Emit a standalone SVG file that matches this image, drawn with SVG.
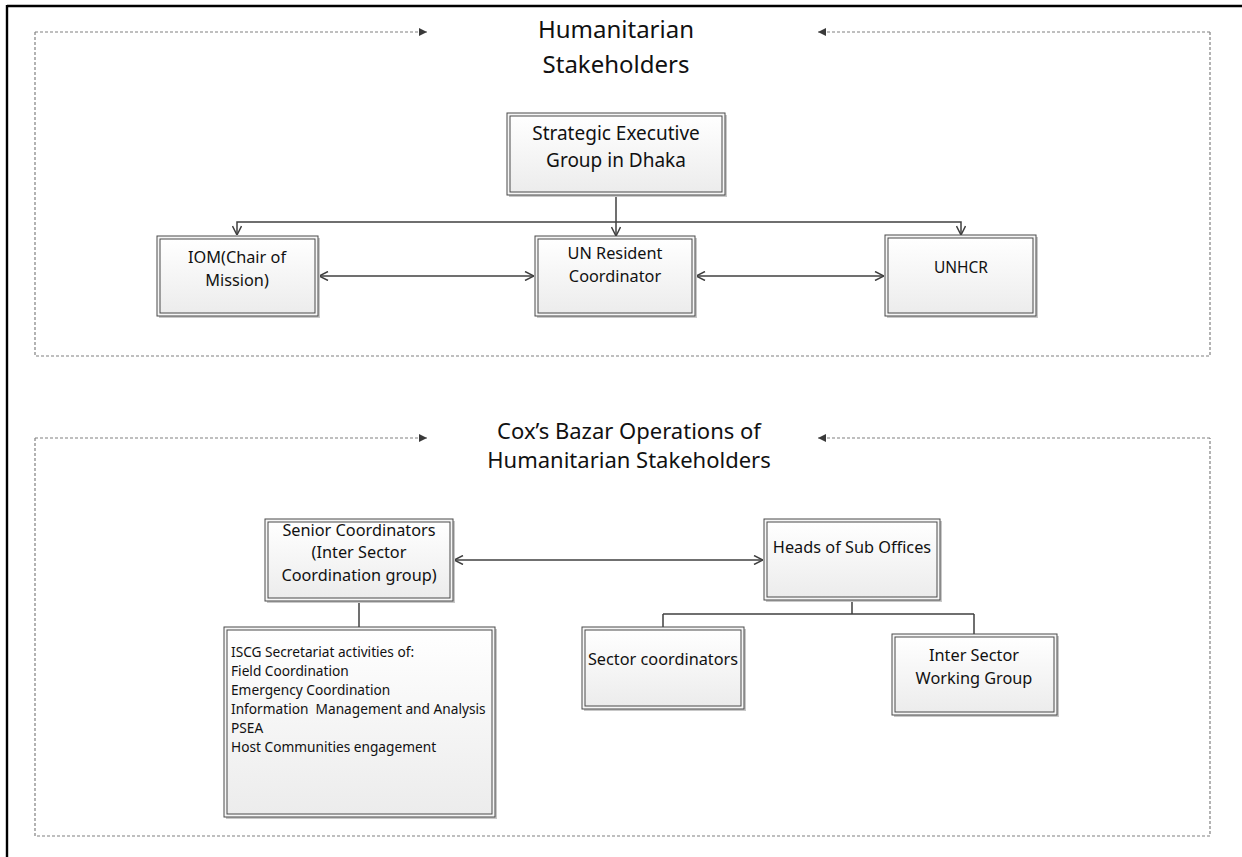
<svg xmlns="http://www.w3.org/2000/svg" width="1242" height="857" viewBox="0 0 1242 857">
<style>
  text { font-family: "Noto Sans", "Open Sans", "Liberation Sans", sans-serif; fill: #111; }
  .title { font-size: 24px; text-anchor: middle; }
  .title2 { font-size: 22px; text-anchor: middle; }
  .big { font-size: 19px; text-anchor: middle; }
  .lbl { font-size: 16.3px; text-anchor: middle; }
  .small { font-size: 13.7px; }
  .shadow { fill: #c8c8c8; }
  .outer { fill: #f6f6f6; stroke: #4a4a4a; stroke-width: 1; }
  .inner { fill: url(#boxfill); stroke: #4a4a4a; stroke-width: 1; }
  .frame { fill: none; stroke: #808080; stroke-width: 1.2; stroke-dasharray: 3 2; }
  .conn { fill: none; stroke: #404040; stroke-width: 1.5; }
  .border { stroke: #000; stroke-width: 2.4; fill: none; }
</style>
<defs>
  <linearGradient id="boxfill" x1="0" y1="0" x2="0" y2="1">
    <stop offset="0" stop-color="#ffffff"/>
    <stop offset="1" stop-color="#ececec"/>
  </linearGradient>
  <marker id="open" viewBox="0 0 10 10" refX="10" refY="5" markerWidth="10" markerHeight="10" markerUnits="userSpaceOnUse" orient="auto-start-reverse">
    <path d="M1,0.5 L10,5 L1,9.5" fill="none" stroke="#404040" stroke-width="1.5"/>
  </marker>
  <marker id="tri" viewBox="0 0 10 10" refX="10" refY="5" markerWidth="10" markerHeight="8" markerUnits="userSpaceOnUse" orient="auto">
    <path d="M0,0 L10,5 L0,10 Z" fill="#3a3a3a"/>
  </marker>
</defs>

<g id="page-border">
  <line class="border" x1="7" y1="6" x2="1242" y2="6"/>
  <line class="border" x1="7" y1="5" x2="7" y2="857"/>
</g>

<g id="frames">
  <path class="frame" d="M35,32 H427" marker-end="url(#tri)"/>
  <path class="frame" d="M1210,32 H818" marker-end="url(#tri)"/>
  <path class="frame" d="M35,32 V356 H1210 V32"/>
  <path class="frame" d="M35,438 H427" marker-end="url(#tri)"/>
  <path class="frame" d="M1210,438 H818" marker-end="url(#tri)"/>
  <path class="frame" d="M35,438 V836 H1210 V438"/>
</g>

<g id="titles">
  <text class="title" x="616" y="38">Humanitarian</text>
  <text class="title" x="616" y="73">Stakeholders</text>
  <text class="title2" x="629" y="439">Cox’s Bazar Operations of</text>
  <text class="title2" x="629" y="468">Humanitarian Stakeholders</text>
</g>

<g id="connectors">
  <path class="conn" d="M616,195 V222"/>
  <path class="conn" d="M616,222 H237 V235" marker-end="url(#open)"/>
  <path class="conn" d="M616,222 H961 V235" marker-end="url(#open)"/>
  <path class="conn" d="M616,222 V236" marker-end="url(#open)"/>
  <path class="conn" d="M319,276 H534" marker-start="url(#open)" marker-end="url(#open)"/>
  <path class="conn" d="M696,276 H884" marker-start="url(#open)" marker-end="url(#open)"/>
  <path class="conn" d="M454,560 H763" marker-start="url(#open)" marker-end="url(#open)"/>
  <path class="conn" d="M359,601 V627"/>
  <path class="conn" d="M852,600 V614 M663,614 H974 M663,614 V627 M974,614 V634"/>
</g>

<g id="node-seg">
  <rect class="shadow" x="509" y="115" width="218" height="82"/>
  <rect class="outer" x="507" y="113" width="218" height="82"/>
  <rect class="inner" x="510" y="116" width="212" height="76"/>
  <text class="big" x="616" y="140">Strategic Executive</text>
  <text class="big" x="616" y="167">Group in Dhaka</text>
</g>

<g id="node-iom">
  <rect class="shadow" x="159" y="238" width="161" height="80"/>
  <rect class="outer" x="157" y="236" width="161" height="80"/>
  <rect class="inner" x="160" y="239" width="155" height="74"/>
  <text class="lbl" x="237" y="263">IOM(Chair of</text>
  <text class="lbl" x="237" y="286">Mission)</text>
</g>

<g id="node-unrc">
  <rect class="shadow" x="537" y="238" width="160" height="80"/>
  <rect class="outer" x="535" y="236" width="160" height="80"/>
  <rect class="inner" x="538" y="239" width="154" height="74"/>
  <text class="lbl" x="615" y="259">UN Resident</text>
  <text class="lbl" x="615" y="282">Coordinator</text>
</g>

<g id="node-unhcr">
  <rect class="shadow" x="887" y="237" width="151" height="81"/>
  <rect class="outer" x="885" y="235" width="151" height="81"/>
  <rect class="inner" x="888" y="238" width="145" height="75"/>
  <text class="lbl" x="961" y="273" style="font-size:15.5px">UNHCR</text>
</g>

<g id="node-senior">
  <rect class="shadow" x="267" y="521" width="188" height="82"/>
  <rect class="outer" x="265" y="519" width="188" height="82"/>
  <rect class="inner" x="268" y="522" width="182" height="76"/>
  <text class="lbl" x="359" y="536">Senior Coordinators</text>
  <text class="lbl" x="359" y="558">(Inter Sector</text>
  <text class="lbl" x="359" y="581">Coordination group)</text>
</g>

<g id="node-iscg">
  <rect class="shadow" x="226" y="629" width="271" height="190"/>
  <rect class="outer" x="224" y="627" width="271" height="190"/>
  <rect class="inner" x="227" y="630" width="265" height="184"/>
  <text class="small" x="231" y="657">ISCG Secretariat activities of:</text>
  <text class="small" x="231" y="676">Field Coordination</text>
  <text class="small" x="231" y="695">Emergency Coordination</text>
  <text class="small" x="231" y="714" xml:space="preserve">Information  Management and Analysis</text>
  <text class="small" x="231" y="733">PSEA</text>
  <text class="small" x="231" y="752">Host Communities engagement</text>
</g>

<g id="node-heads">
  <rect class="shadow" x="766" y="521" width="176" height="81"/>
  <rect class="outer" x="764" y="519" width="176" height="81"/>
  <rect class="inner" x="767" y="522" width="170" height="75"/>
  <text class="lbl" x="852" y="553">Heads of Sub Offices</text>
</g>

<g id="node-sector">
  <rect class="shadow" x="584" y="629" width="162" height="82"/>
  <rect class="outer" x="582" y="627" width="162" height="82"/>
  <rect class="inner" x="585" y="630" width="156" height="76"/>
  <text class="lbl" x="663" y="665">Sector coordinators</text>
</g>

<g id="node-iswg">
  <rect class="shadow" x="894" y="636" width="165" height="81"/>
  <rect class="outer" x="892" y="634" width="165" height="81"/>
  <rect class="inner" x="895" y="637" width="159" height="75"/>
  <text class="lbl" x="974" y="661">Inter Sector</text>
  <text class="lbl" x="974" y="684">Working Group</text>
</g>
</svg>
